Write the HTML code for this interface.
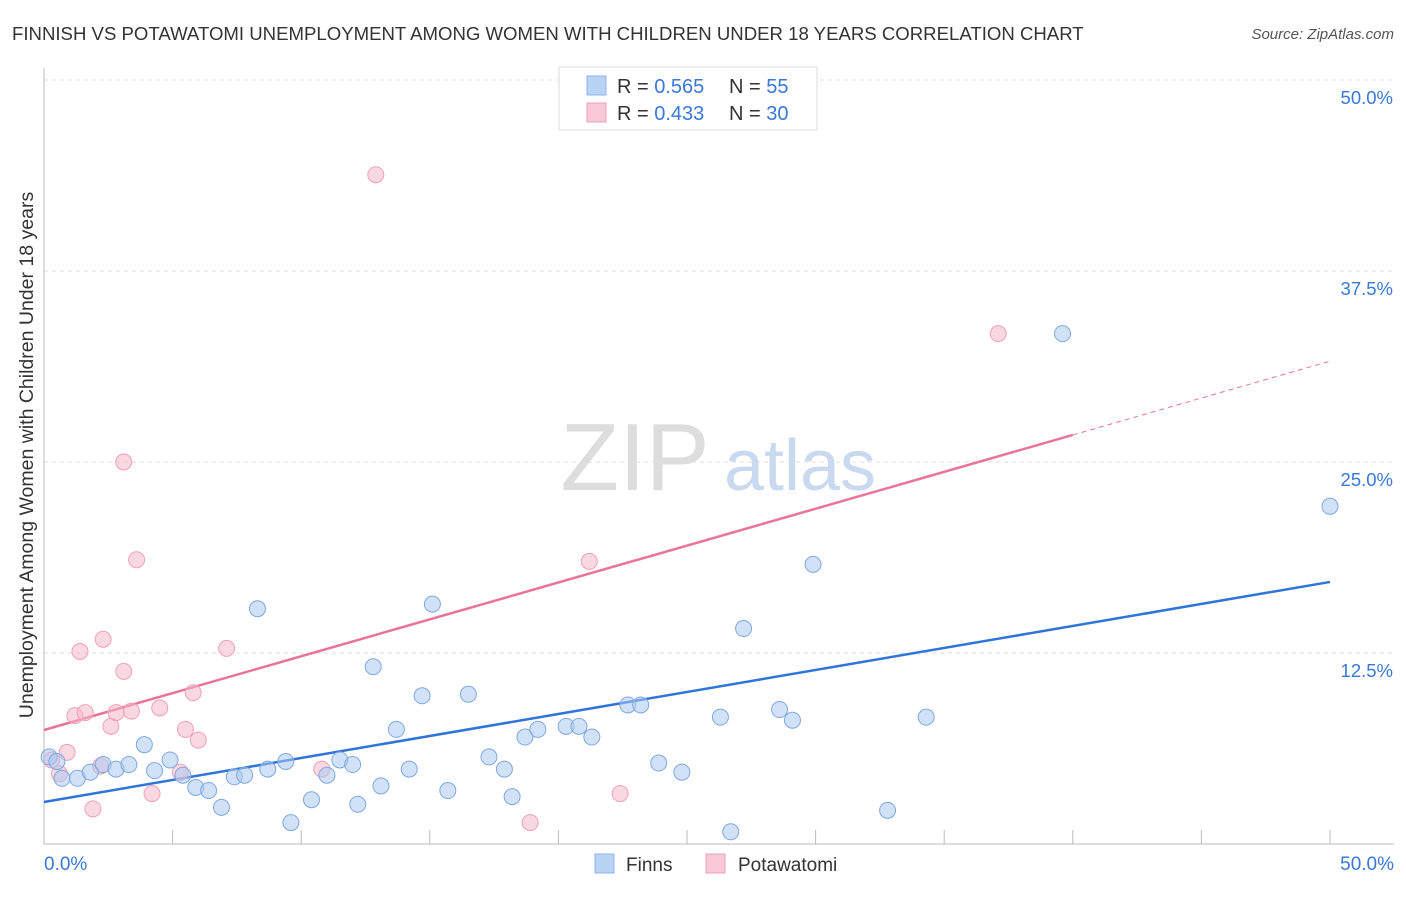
<!DOCTYPE html>
<html><head><meta charset="utf-8"><style>
body{margin:0;background:#fff;font-family:"Liberation Sans",sans-serif;}
svg text{font-family:"Liberation Sans",sans-serif;}
</style></head><body>
<svg width="1406" height="892" viewBox="0 0 1406 892">
<text x="12" y="40" font-size="18.6" fill="#333">FINNISH VS POTAWATOMI UNEMPLOYMENT AMONG WOMEN WITH CHILDREN UNDER 18 YEARS CORRELATION CHART</text>
<text x="1394" y="39" font-size="15" fill="#555" text-anchor="end" font-style="italic">Source: ZipAtlas.com</text>
<g id="grid"></g>
<g><text x="635" y="490" font-size="96" fill="#ddd" text-anchor="middle" font-family="Liberation Serif">ZIP</text><text x="800" y="490" font-size="72" fill="#c9daf0" text-anchor="middle">atlas</text></g>
<line x1="44" y1="68" x2="44" y2="844" stroke="#bbb"/>
<line x1="44" y1="844" x2="1394" y2="844" stroke="#bbb"/>
<g id="ticks"></g>
<g id="lines"></g>
<g id="pts"></g>
<text x="33" y="455" font-size="19.5" fill="#333" text-anchor="middle" transform="rotate(-90 33 455)">Unemployment Among Women with Children Under 18 years</text>
<text x="44" y="870" font-size="19" fill="#3a78d8">0.0%</text>
<text x="1394" y="870" font-size="19" fill="#3a78d8" text-anchor="end">50.0%</text>
<g>
<rect x="559" y="67" width="258" height="63" fill="#fff" stroke="#ddd"/>
<rect x="587" y="76" width="19" height="19" fill="#b9d3f5" stroke="#8ab4e8"/>
<text x="617" y="93" font-size="20" fill="#333">R = <tspan fill="#3a78d8">0.565</tspan></text>
<text x="729" y="93" font-size="20" fill="#333">N = <tspan fill="#3a78d8">55</tspan></text>
<rect x="587" y="103" width="19" height="19" fill="#f9c9d7" stroke="#f0a0b8"/>
<text x="617" y="120" font-size="20" fill="#333">R = <tspan fill="#3a78d8">0.433</tspan></text>
<text x="729" y="120" font-size="20" fill="#333">N = <tspan fill="#3a78d8">30</tspan></text>
</g>
<g><rect x="595" y="854" width="19" height="19" fill="#b9d3f5" stroke="#8ab4e8"/><text x="626" y="871" font-size="19" fill="#333">Finns</text></g>
<g><rect x="706" y="854" width="19" height="19" fill="#f9c9d7" stroke="#f0a0b8"/><text x="738" y="871" font-size="19" fill="#333">Potawatomi</text></g>
</svg>
<script>
const finnsX=[0.2,0.5,0.7,1.3,1.8,2.3,2.8,3.3,3.9,4.3,4.9,5.4,5.9,6.4,6.9,7.4,7.8,8.3,8.7,9.4,9.6,10.4,11.0,11.5,12.0,12.2,12.8,13.1,13.7,14.2,14.7,15.1,15.7,16.5,17.3,17.9,18.2,18.7,19.2,20.3,20.8,21.3,22.7,23.2,23.9,24.8,26.3,26.7,27.2,28.6,29.1,29.9,32.8,34.3,39.6,50.0];
const finnsY=[5.7,5.4,4.3,4.3,4.7,5.2,4.9,5.2,6.5,4.8,5.5,4.5,3.7,3.5,2.4,4.4,4.5,15.4,4.9,5.4,1.4,2.9,4.5,5.5,5.2,2.6,11.6,3.8,7.5,4.9,9.7,15.7,3.5,9.8,5.7,4.9,3.1,7.0,7.5,7.7,7.7,7.0,9.1,9.1,5.3,4.7,8.3,0.8,14.1,8.8,8.1,18.3,2.2,8.3,33.4,22.1];
const potX=[0.3,0.6,0.9,1.2,1.4,1.6,1.9,2.2,2.3,2.6,2.8,3.1,3.1,3.4,3.6,4.2,4.5,5.3,5.5,5.8,6.0,7.1,10.8,12.9,18.9,21.2,22.4,37.1];
const potY=[5.5,4.6,6.0,8.4,12.6,8.6,2.3,5.1,13.4,7.7,8.6,25.0,11.3,8.7,18.6,3.3,8.9,4.7,7.5,9.9,6.8,12.8,4.9,43.8,1.4,18.5,3.3,33.4];
const blueTrend=[2.75,17.15];
const pinkTrend=[7.46,26.77,31.6];
const yTicks=[12.5,25,37.5,50];
const yTickLabels=["12.5%","25.0%","37.5%","50.0%"];
const xTicks=[0,5,10,15,20,25,30,35,40,45,50];
const NS="http://www.w3.org/2000/svg";
const sx=v=>44+v*25.72, sy=v=>844-v*15.28;
function mk(t,a,p){const e=document.createElementNS(NS,t);for(const k in a)e.setAttribute(k,a[k]);p.appendChild(e);return e;}
const grid=document.getElementById('grid');
yTicks.forEach((v,i)=>{
 const l=mk('line',{x1:44,x2:1394,y1:sy(v),y2:sy(v),stroke:'#ddd','stroke-dasharray':'4 4'},grid);
 
 
 const t=mk('text',{x:1393,y:sy(v)+24,'font-size':18.5,fill:'#3a78d8','text-anchor':'end'},grid);
 t.textContent=yTickLabels[i];
 
 
});
const tk=document.getElementById('ticks');
xTicks.forEach(v=>{
 const l=mk('line',{x1:sx(v),x2:sx(v),y1:830,y2:844,stroke:'#bbb'},tk);
 
 
});
const ln=document.getElementById('lines');
let b=mk('line',{x1:sx(0),y1:sy(blueTrend[0]),x2:sx(50),y2:sy(blueTrend[1]),stroke:'#2f74d8','stroke-width':2.5},ln);


let p=mk('line',{x1:sx(0),y1:sy(pinkTrend[0]),x2:sx(40),y2:sy(pinkTrend[1]),stroke:'#e8749a','stroke-width':2.5},ln);


let pd=mk('line',{x1:sx(40),y1:sy(pinkTrend[1]),x2:sx(50),y2:sy(pinkTrend[2]),stroke:'#e8749a','stroke-width':1,'stroke-dasharray':'5 4'},ln);


const pts=document.getElementById('pts');
potX.forEach((x,i)=>{
 const c=mk('circle',{cx:sx(x),cy:sy(potY[i]),r:8,fill:'rgba(246,184,203,0.55)',stroke:'#f0a0b8','stroke-width':1},pts);
 
 
});
finnsX.forEach((x,i)=>{
 const c=mk('circle',{cx:sx(x),cy:sy(finnsY[i]),r:8,fill:'rgba(170,200,242,0.55)',stroke:'#7fa9e0','stroke-width':1},pts);
 
 
});
</script>
</body></html>
